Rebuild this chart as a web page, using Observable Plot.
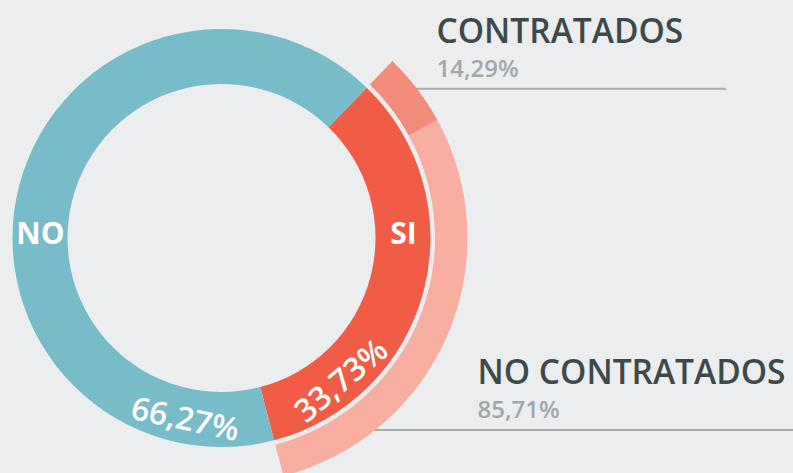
<!DOCTYPE html>
<html>
<head>
<meta charset="utf-8">
<script src="https://cdn.jsdelivr.net/npm/d3@7"></script>
<script src="https://cdn.jsdelivr.net/npm/@observablehq/plot@0.6"></script>
<style>
  html, body { margin: 0; padding: 0; background: #ecedef; }
  #chart svg { display: block; }
</style>
</head>
<body>
<div id="chart"></div>
<script>
// Respuesta principal
const answers = ["SI", "NO"];
const answerShares = [33.73, 66.27];

// Desglose de quienes respondieron "SI"
const hiring = ["CONTRATADOS", "NO CONTRATADOS"];
const hiringShares = [14.29, 85.71];

// ---- layout ----
const W = 793, H = 473;
const cx = 221.5, cy = 238;               // centre of the rings, in px
const ring = {inner: 154, outer: 209};    // main donut
const band = {inner: 213.5, outer: 246};  // outer band for the "SI" breakdown
const startDeg = 44;                      // where the "SI" slice begins (clockwise from 12 o'clock)

const colors = {
  "SI": "#f05c45",
  "NO": "#77bcc8",
  "CONTRATADOS": "#f38c7b",
  "NO CONTRATADOS": "#f8aea1"
};

const fmt = v => v.toFixed(2).replace(".", ",") + "%";
const rad = d => d * Math.PI / 180;
// polar -> plot coordinates (angle clockwise from top, y pointing up)
const polar = (deg, r) => ({x: r * Math.sin(rad(deg)), y: r * Math.cos(rad(deg))});

// ---- slices ----
const mainSlices = d3.pie().sort(null).value(d => d.share)
  .startAngle(rad(startDeg)).endAngle(rad(startDeg) + 2 * Math.PI)(
    answers.map((key, i) => ({key, share: answerShares[i]})));
const siSlice = mainSlices.find(d => d.data.key === "SI");
const subSlices = d3.pie().sort(null).value(d => d.share)
  .startAngle(siSlice.startAngle).endAngle(siSlice.endAngle)(
    hiring.map((key, i) => ({key, share: hiringShares[i]})));

// custom mark: annular sectors drawn through the plot's x/y scales
function arcMark(slices, radii) {
  return (index, scales) => {
    const x0 = scales.x(0), y0 = scales.y(0);
    const k = Math.abs(scales.x(1) - x0);
    const arc = d3.arc().innerRadius(radii.inner * k).outerRadius(radii.outer * k);
    const g = d3.create("svg:g").attr("transform", `translate(${x0},${y0})`);
    g.selectAll("path").data(slices).join("path")
      .attr("d", arc)
      .attr("fill", d => colors[d.data.key]);
    return g.node();
  };
}

// ---- in-ring labels ----
const mid = (ring.inner + ring.outer) / 2;
const nameLabels = answers.map(key => {
  const p = polar(key === "SI" ? 90 : 270, mid);
  return {text: key, x: p.x, y: p.y};
});
const pctPlacement = {SI: {deg: 140, r: 186, rotate: -40}, NO: {deg: 191.5, r: 185, rotate: 12}};
const pctLabels = answers.map((key, i) => {
  const pl = pctPlacement[key];
  const p = polar(pl.deg, pl.r);
  return {text: fmt(answerShares[i]), x: p.x, y: p.y, rotate: pl.rotate};
});

// ---- annotations on the right ----
const notePlacement = {
  "CONTRATADOS":    {x: 214.5, title: 196,  value: 162,  rule: 149.7, x2: 504.5},
  "NO CONTRATADOS": {x: 255.5, title: -145, value: -179, rule: -191.5, x2: W - cx}
};
const notes = hiring.map((key, i) => {
  const n = notePlacement[key];
  return {
    title: key,
    value: fmt(hiringShares[i]),
    x: n.x, yTitle: n.title, yValue: n.value,
    yRule: n.rule,
    x1: Math.sqrt(band.outer ** 2 - n.rule ** 2) - 4,
    x2: n.x2
  };
});

const chart = Plot.plot({
  width: W,
  height: H,
  margin: 0,
  style: {background: "#ecedef", fontFamily: "'Open Sans', sans-serif"},
  x: {domain: [-cx, W - cx], axis: null},
  y: {domain: [-(H - cy), cy], axis: null},
  marks: [
    Plot.ruleY(notes, {y: "yRule", x1: "x1", x2: "x2", stroke: "#a7acb0", strokeWidth: 2}),
    arcMark(mainSlices, ring),
    arcMark(subSlices, band),
    Plot.text(nameLabels, {
      x: "x", y: "y", text: "text", dy: -4,
      fill: "white", fontSize: 30, fontWeight: 700
    }),
    Plot.text(pctLabels, {
      x: "x", y: "y", text: "text", rotate: "rotate",
      fill: "white", fontSize: 32, fontWeight: 600
    }),
    Plot.text(notes, {
      x: "x", y: "yTitle", text: "title", textAnchor: "start", lineAnchor: "bottom",
      fill: "#3e4a4a", fontSize: 33.5, fontWeight: 600
    }),
    Plot.text(notes, {
      x: "x", y: "yValue", text: "value", textAnchor: "start", lineAnchor: "bottom",
      fill: "#a1a8ac", fontSize: 24, fontWeight: 600
    })
  ]
});

document.getElementById("chart").appendChild(chart);
</script>
</body>
</html>
